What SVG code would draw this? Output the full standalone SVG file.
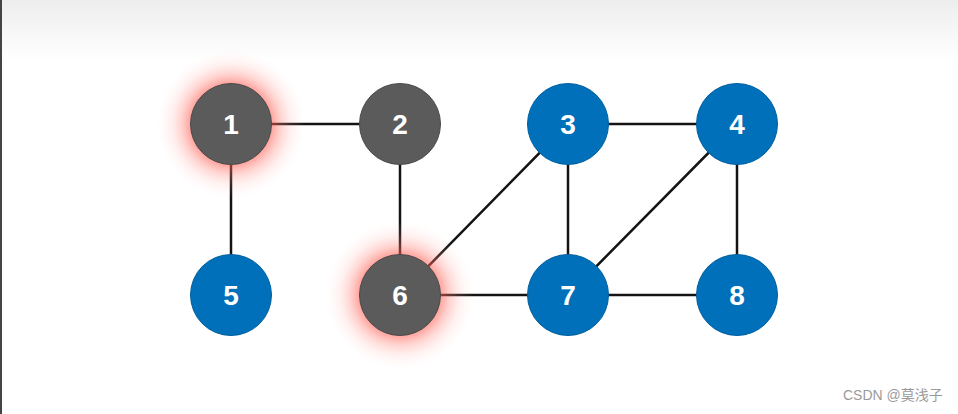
<svg xmlns="http://www.w3.org/2000/svg" width="958" height="414" viewBox="0 0 958 414">
  <defs>
    <linearGradient id="topfade" x1="0" y1="0" x2="0" y2="1">
      <stop offset="0" stop-color="#ededed"/>
      <stop offset="1" stop-color="#ffffff"/>
    </linearGradient>
    <radialGradient id="glow" cx="0.5" cy="0.5" r="0.5">
      <stop offset="0.55" stop-color="#ff5a4e" stop-opacity="0.55"/>
      <stop offset="0.68" stop-color="#ff7a70" stop-opacity="0.32"/>
      <stop offset="0.82" stop-color="#ffa098" stop-opacity="0.14"/>
      <stop offset="1" stop-color="#ffd0cc" stop-opacity="0"/>
    </radialGradient>
    <style>
      .edge { stroke: #141414; stroke-width: 2.5; stroke-linecap: round; }
      .gray { fill: #5b5b5b; stroke: #4a4a4a; stroke-width: 1; }
      .blue { fill: #0070ba; stroke: #005f9e; stroke-width: 1; }
      .lbl { font-family: "Liberation Sans", Arial, sans-serif; font-size: 28px; font-weight: bold; fill: #ffffff; text-anchor: middle; }
      .wm { font-family: "Liberation Sans", "Noto Sans CJK SC", sans-serif; font-size: 14px; fill: #9a9a9a; }
    </style>
  </defs>
  <rect x="0" y="0" width="958" height="414" fill="#ffffff"/>
  <rect x="0" y="0" width="958" height="60" fill="url(#topfade)"/>
  <rect x="0" y="0" width="2" height="414" fill="#444444"/>

  <g id="connectors">
    <line class="edge" x1="231" y1="124" x2="400" y2="124"/>
    <line class="edge" x1="231" y1="124" x2="231" y2="295"/>
    <line class="edge" x1="400" y1="124" x2="400" y2="295"/>
    <line class="edge" x1="568" y1="124" x2="737" y2="124"/>
    <line class="edge" x1="568" y1="124" x2="400" y2="295"/>
    <line class="edge" x1="568" y1="124" x2="568" y2="295"/>
    <line class="edge" x1="737" y1="124" x2="568" y2="295"/>
    <line class="edge" x1="737" y1="124" x2="737" y2="295"/>
    <line class="edge" x1="400" y1="295" x2="568" y2="295"/>
    <line class="edge" x1="568" y1="295" x2="737" y2="295"/>
  </g>

  <g id="node1">
    <circle cx="231" cy="124" r="74" fill="url(#glow)"/>
    <circle class="gray" cx="231" cy="124" r="40.5"/>
    <text class="lbl" x="231" y="134">1</text>
  </g>
  <g id="node2">
    <circle class="gray" cx="400" cy="124" r="40.5"/>
    <text class="lbl" x="400" y="134">2</text>
  </g>
  <g id="node3">
    <circle class="blue" cx="568" cy="124" r="40.5"/>
    <text class="lbl" x="568" y="134">3</text>
  </g>
  <g id="node4">
    <circle class="blue" cx="737" cy="124" r="40.5"/>
    <text class="lbl" x="737" y="134">4</text>
  </g>
  <g id="node5">
    <circle class="blue" cx="231" cy="295" r="40.5"/>
    <text class="lbl" x="231" y="305">5</text>
  </g>
  <g id="node6">
    <circle cx="400" cy="295" r="74" fill="url(#glow)"/>
    <circle class="gray" cx="400" cy="295" r="40.5"/>
    <text class="lbl" x="400" y="305">6</text>
  </g>
  <g id="node7">
    <circle class="blue" cx="568" cy="295" r="40.5"/>
    <text class="lbl" x="568" y="305">7</text>
  </g>
  <g id="node8">
    <circle class="blue" cx="737" cy="295" r="40.5"/>
    <text class="lbl" x="737" y="305">8</text>
  </g>

  <text class="wm" x="843" y="400">CSDN @莫浅子</text>
</svg>
